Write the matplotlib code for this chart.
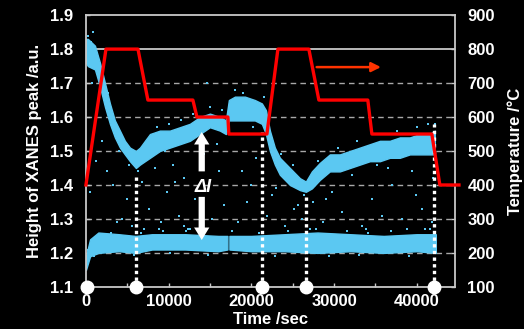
import numpy as np
import matplotlib
matplotlib.use("Agg")
import matplotlib.pyplot as plt

plt.rcParams['font.family'] = ['Liberation Sans', 'DejaVu Sans']
plt.rcParams['font.weight'] = 'bold'

#=== data ===
# upper band (sample), time /sec and envelope of the dot cloud
t_up = [0, 240, 1090, 1690, 2300, 2900, 3500, 4110, 4710, 5320, 6040, 6530,
        7130, 7740, 8940, 10150, 11360, 12570, 13780, 14990, 16200, 16920,
        17280, 18010, 19220, 20430, 21270, 21760, 22240, 22840, 23450, 24660,
        25870, 26590, 27320, 28280, 29490, 30700, 31910, 33120, 34330, 35540,
        36740, 37950, 39160, 40370, 41580, 42180]
up_lo = [1.76, 1.75, 1.74, 1.69, 1.63, 1.58, 1.54, 1.51, 1.49, 1.47, 1.45, 1.46,
         1.47, 1.48, 1.50, 1.51, 1.52, 1.53, 1.55, 1.57, 1.56, 1.55,
         1.59, 1.59, 1.59, 1.59, 1.58, 1.55, 1.50, 1.46, 1.43, 1.40,
         1.385, 1.38, 1.39, 1.415, 1.44, 1.44, 1.45, 1.46, 1.47, 1.47,
         1.48, 1.48, 1.49, 1.49, 1.49, 1.49]
up_hi = [1.83, 1.83, 1.81, 1.76, 1.70, 1.64, 1.59, 1.56, 1.53, 1.51, 1.50, 1.51,
         1.53, 1.55, 1.56, 1.56, 1.57, 1.58, 1.60, 1.61, 1.60, 1.59,
         1.65, 1.66, 1.66, 1.65, 1.64, 1.62, 1.56, 1.51, 1.48, 1.45,
         1.42, 1.41, 1.44, 1.465, 1.49, 1.49, 1.50, 1.51, 1.52, 1.53,
         1.53, 1.54, 1.54, 1.55, 1.55, 1.56]

# lower band (reference)
t_low = [0, 500, 1500, 4000, 6000, 8000, 12000, 16000, 17100, 17350, 20000,
         24000, 28000, 32000, 36000, 40000, 42300]
low_lo = [1.15, 1.19, 1.20, 1.205, 1.20, 1.21, 1.21, 1.205, 1.21, 1.21, 1.205,
          1.205, 1.20, 1.205, 1.20, 1.205, 1.20]
low_hi = [1.19, 1.24, 1.26, 1.255, 1.25, 1.255, 1.255, 1.25, 1.25, 1.25, 1.25,
          1.255, 1.26, 1.255, 1.25, 1.255, 1.255]

# stray points between and around the bands (rows of 12)
stray_t = [300, 600, 900, 700, 1200, 500, 2600, 3300, 4300, 5000, 5600, 6800,
           7600, 8300, 9100, 9800, 10500, 11200, 11900, 12600, 13200, 14600, 15300, 16100,
           16700, 18400, 19500, 20600, 21900, 23000, 24100, 25200, 26100, 27500, 28700, 29800,
           31000, 32200, 33400, 34600, 35800, 37000, 38200, 39400, 40600, 41800, 2000, 3800,
           7000, 9500, 11800, 14300, 15800, 18900, 22500, 25600, 30100, 33800, 36500, 39900,
           42000, 13700, 12300, 8800, 24800, 29000, 35200, 41000, 10800, 19900, 27800, 42200,
           1500, 2700, 4000, 5200, 6300, 7300, 8600, 10000, 11500, 13000, 15000, 16400,
           18000, 19000, 20200, 21500, 23600, 25000, 26400, 28000, 30500, 32800, 35000, 37600,
           40000, 41400, 3000, 6600, 9300, 12100, 17600, 20900, 24400, 27100, 31600, 34100,
           36900, 38800, 41600, 200, 1000, 5800, 10200, 14800, 22800, 29400, 33000, 39000]
stray_y = [1.84, 1.82, 1.85, 1.70, 1.47, 1.38, 1.44, 1.40, 1.30, 1.36, 1.28, 1.41,
           1.33, 1.45, 1.29, 1.38, 1.46, 1.31, 1.42, 1.27, 1.36, 1.70, 1.30, 1.44,
           1.34, 1.29, 1.35, 1.48, 1.31, 1.39, 1.28, 1.33, 1.30, 1.35, 1.29, 1.38,
           1.32, 1.43, 1.28, 1.36, 1.31, 1.40, 1.30, 1.44, 1.33, 1.29, 1.53, 1.29,
           1.27, 1.50, 1.28, 1.49, 1.52, 1.44, 1.37, 1.34, 1.46, 1.27, 1.45, 1.37,
           1.42, 1.58, 1.27, 1.27, 1.43, 1.36, 1.46, 1.27, 1.41, 1.40, 1.27, 1.58,
           1.72, 1.67, 1.50, 1.46, 1.44, 1.52, 1.57, 1.58, 1.59, 1.61, 1.63, 1.62,
           1.68, 1.67, 1.57, 1.66, 1.49, 1.46, 1.37, 1.47, 1.51, 1.53, 1.55, 1.56,
           1.57, 1.58, 1.26, 1.26, 1.265, 1.265, 1.265, 1.26, 1.265, 1.27, 1.265, 1.26,
           1.265, 1.27, 1.27, 1.21, 1.19, 1.195, 1.20, 1.195, 1.19, 1.19, 1.195, 1.19]

# temperature program (red line)
temp_t = [0, 2420, 6290, 7490, 12930, 13420, 17160, 17280, 21880, 23210, 26950,
          28160, 34080, 34570, 41820, 42790, 45100]
temp_c = [400, 800, 800, 650, 650, 600, 600, 550, 550, 800, 800,
          650, 650, 550, 550, 400, 400]

# times of the spectra (white circles) and top of their dotted lines
mark_t = [100, 6040, 21270, 26590, 42060]
mark_top = [1.10, 1.43, 1.556, 1.37, 1.58]

ci = '#5BC8F2'

fig = plt.figure(figsize=(5.24, 3.29), dpi=100, facecolor='black')
ax = fig.add_axes([0.164, 0.128, 0.704, 0.826], facecolor='black')

# dashed grid and solid line at 1.8
for g in [1.2, 1.3, 1.4, 1.5, 1.6, 1.7]:
    ax.axhline(g, color='#A8A8A8', lw=1, ls=(0, (4, 3)), zorder=1)
ax.axhline(1.8, color='#C8C8C8', lw=1.3, zorder=1)

# dot clouds
ax.fill_between(t_up, up_lo, up_hi, color=ci, lw=1.0, edgecolor=ci, zorder=2)
ax.fill_between(t_low[:9], low_lo[:9], low_hi[:9], color=ci, lw=1.0, edgecolor=ci, zorder=2)
ax.fill_between(t_low[9:], low_lo[9:], low_hi[9:], color=ci, lw=1.0, edgecolor=ci, zorder=2)
ax.scatter(stray_t, stray_y, s=4, marker='s', color=ci, lw=0, zorder=2)

# dotted lines and circles
for t, top in zip(mark_t[1:], mark_top[1:]):
    ax.plot([t, t], [1.1, top], color='white', lw=2.4, ls=(0, (1, 1)), zorder=4)
ax.plot(mark_t, [1.1] * len(mark_t), 'o', color='white', ms=9, ls='none',
        clip_on=False, zorder=6)

# delta I arrows
t_arr = 14000
ax.annotate('', xy=(t_arr, 1.556), xytext=(t_arr, 1.44),
            arrowprops=dict(facecolor='white', edgecolor='none', width=4.5,
                            headwidth=11, headlength=9, shrink=0), zorder=5)
ax.annotate('', xy=(t_arr, 1.238), xytext=(t_arr, 1.365),
            arrowprops=dict(facecolor='white', edgecolor='none', width=4.5,
                            headwidth=11, headlength=9, shrink=0), zorder=5)
ax.text(t_arr + 200, 1.394, 'ΔI', color='white', fontsize=13, style='italic',
        fontweight='bold', ha='center', va='center', zorder=5)

ax.set_xlim(0, 44600)
ax.set_ylim(1.1, 1.9)
ax.set_xticks([0, 10000, 20000, 30000, 40000])
ax.set_xticks(np.arange(5000, 44600, 10000), minor=True)
ax.set_yticks(np.arange(1.1, 1.91, 0.1))
ax.set_yticklabels(['%.1f' % v for v in np.arange(1.1, 1.91, 0.1)])
ax.tick_params(which='both', direction='in', colors='#C8C8C8', labelcolor='white',
               labelsize=12, length=3, width=1)
ax.tick_params(axis='y', pad=9)
ax.tick_params(axis='x', pad=5)
for s in ax.spines.values():
    s.set_color('#C8C8C8')
    s.set_linewidth(1.3)
ax.set_xlabel('Time /sec', color='white', fontsize=12, fontweight='bold', labelpad=2)
ax.set_ylabel('Height of XANES peak /a.u.', color='white', fontsize=12,
              fontweight='bold', labelpad=6)

# temperature axis
ax2 = ax.twinx()
ax2.set_ylim(100, 900)
ax2.set_yticks(np.arange(100, 901, 100))
ax2.plot(temp_t, temp_c, color='#FF0000', lw=2.4, clip_on=False, zorder=3)
ax2.annotate('', xy=(36000, 747), xytext=(27560, 747),
             arrowprops=dict(arrowstyle='-|>', color='#FF3300', lw=1.8,
                             mutation_scale=14))
ax2.tick_params(direction='in', colors='#C8C8C8', labelcolor='white',
                labelsize=12, length=3, width=1, pad=9)
for s in ax2.spines.values():
    s.set_visible(False)
ax2.set_ylabel('Temperature /°C', color='white', fontsize=12, fontweight='bold',
               labelpad=9)

fig.savefig('out.png', dpi=100, facecolor='black')
